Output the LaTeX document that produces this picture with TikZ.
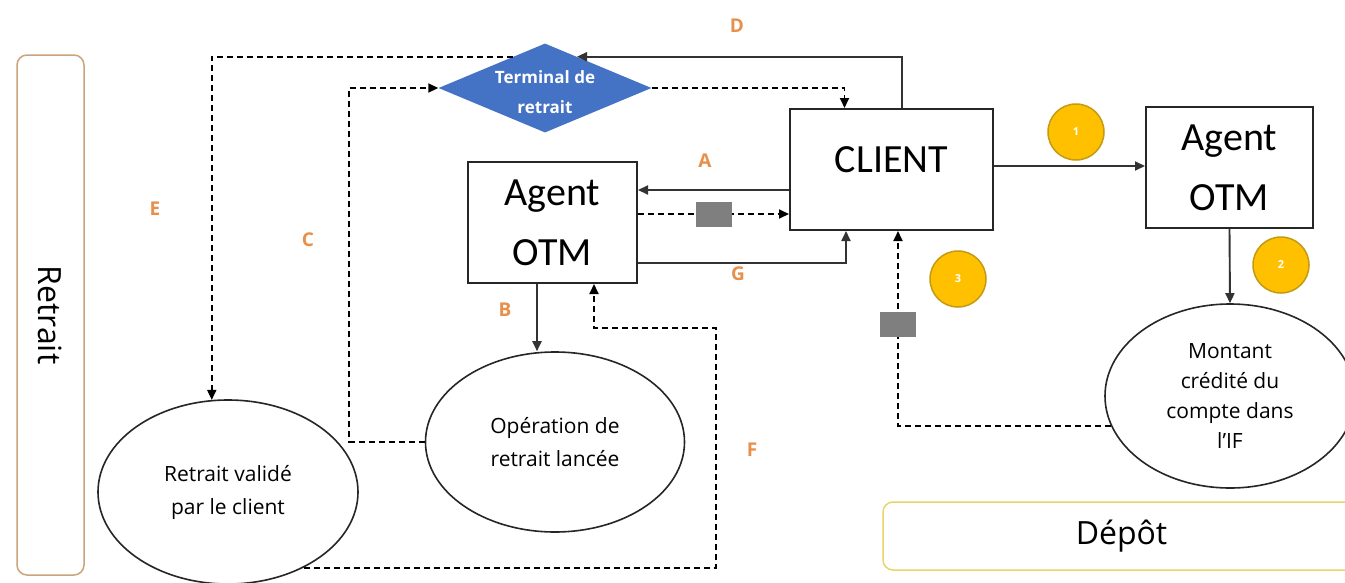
\documentclass[tikz,border=0pt]{standalone}
\usepackage{fontspec}
\setmainfont{Carlito}
\newfontfamily\osans{Open Sans}
\usetikzlibrary{shapes.geometric,arrows.meta,calc}
\definecolor{tblue}{HTML}{4472C4}
\definecolor{lblorange}{HTML}{E8904A}
\definecolor{circfill}{HTML}{FFC000}
\definecolor{circdraw}{HTML}{C49A10}
\definecolor{grayrect}{HTML}{7F7F7F}
\definecolor{tanline}{HTML}{C9A47C}
\definecolor{ylwline}{HTML}{E8D46A}
\begin{document}
\begin{tikzpicture}[x=1pt,y=-1pt,
 box/.style={draw=black!85, line width=2pt, fill=white, inner sep=0pt},
 agentbox/.style={box, align=center, font=\fontsize{40}{60}\selectfont},
 ell/.style={ellipse, draw=black!85, line width=1.6pt, fill=white, inner sep=0pt, align=center, font=\osans\fontsize{21}{33}\selectfont},
 conn/.style={draw=black!80, line width=1.9pt, -{Triangle[length=10pt,width=9pt]}},
 dconn/.style={draw=black, line width=1.8pt, dash pattern=on 6pt off 4pt, -{Triangle[length=10pt,width=9pt]}},
 lbl/.style={text=lblorange, font=\osans\bfseries\fontsize{19}{19}\selectfont, inner sep=0pt},
 circ/.style={circle, fill=circfill, draw=circdraw, line width=1.5pt, minimum size=56pt, inner sep=0pt, text=white, font=\osans\bfseries\fontsize{11}{11}\selectfont},
 grect/.style={fill=grayrect, inner sep=0pt, minimum width=36pt, minimum height=25pt},
 lane/.style={line width=1.5pt, rounded corners=10pt, fill=white, inner sep=0pt, font=\osans\fontsize{32}{32}\selectfont},
]
\useasboundingbox (0,0) rectangle (1345,582);
\clip (0,0) rectangle (1345,582);
\fill[white] (0,0) rectangle (1345,582);

% lanes
\node[lane, draw=tanline, minimum width=520pt, minimum height=67pt, rotate=-90] (retrait) at (50.5,315) {Retrait};
\node[lane, draw=ylwline, minimum width=477pt, minimum height=68pt] (depot) at (1121.5,536) {Dépôt};

% main nodes
\node[diamond, fill=tblue, minimum width=213pt, minimum height=89pt, inner sep=0pt, aspect=2.4,
      text=white, font=\osans\bfseries\fontsize{17}{30}\selectfont] (term) at (545,88)
      {\raisebox{-9pt}[0pt][0pt]{\begin{tabular}{@{}c@{}}Terminal de\\retrait\end{tabular}}};
\node[box, minimum width=203pt, minimum height=121pt, font=\fontsize{40}{48}\selectfont] (client) at (891.5,169.5) {\raisebox{19pt}{CLIENT}};
\node[agentbox, minimum width=169pt, minimum height=121pt] (agentL) at (552.5,222.5) {Agent\\OTM};
\node[agentbox, minimum width=167pt, minimum height=121pt] (agentR) at (1229.5,167.5) {Agent\\OTM};
\node[ell, minimum width=260pt, minimum height=184pt] (valid) at (228,492) {Retrait validé\\par le client};
\node[ell, minimum width=259pt, minimum height=180pt] (oper) at (555,442) {Opération de\\retrait lancée};
\node[ell, minimum width=250pt, minimum height=184pt, font=\osans\fontsize{21}{30}\selectfont] (montant) at (1230,396) {Montant\\crédité du\\compte dans\\l’IF};

% numbered circles
\node[circ] (c1) at (1076,132) {1};
\node[circ] (c2) at (1281,265) {2};
\node[circ] (c3) at (958,279) {3};

% letter labels
\node[lbl] (lD) at (737,26) {D};
\node[lbl] (lE) at (155,209) {E};
\node[lbl] (lC) at (308,240) {C};
\node[lbl] (lA) at (705,161) {A};
\node[lbl] (lB) at (505,310) {B};
\node[lbl] (lG) at (738,274) {G};
\node[lbl] (lF) at (752,450) {F};

% connectors
\coordinate (fcorner) at (716,328);
\draw[conn] ([xshift=10.5pt]client.north) |- ($(term.north)!0.3!(term.east)$);
\draw[dconn] (term.east) -| ([xshift=-47pt]client.north);
\draw[dconn] ($(term.north)!0.3!(term.west)$) -| (valid.100);
\draw[dconn] (oper.west) -| ([xshift=-89pt]term.west) -- (term.west);
\draw[conn] ([yshift=-20.5pt]client.west) -- ([yshift=32.5pt]agentL.east);
\draw[dconn] ([yshift=8.5pt]agentL.east) -- node[grect]{} ([yshift=-44.5pt]client.west);
\draw[conn] ([yshift=-40.5pt]agentL.east) -| ([xshift=-45.5pt]client.south);
\draw[conn] ([xshift=-15.5pt]agentL.south) -- ([xshift=-15.5pt]agentL.south |- oper.north);
\draw[dconn] (valid.-45) -| (fcorner) -| ([xshift=41.5pt]agentL.south);
\draw[conn] ([yshift=3.5pt]client.east) -- ([yshift=3.5pt]client.east -| agentR.west);
\draw[conn] (agentR.south) -- (montant.north);
\draw[dconn] (montant.194) -| node[grect, pos=0.76]{} ([xshift=6.5pt]client.south);
\end{tikzpicture}
\end{document}
